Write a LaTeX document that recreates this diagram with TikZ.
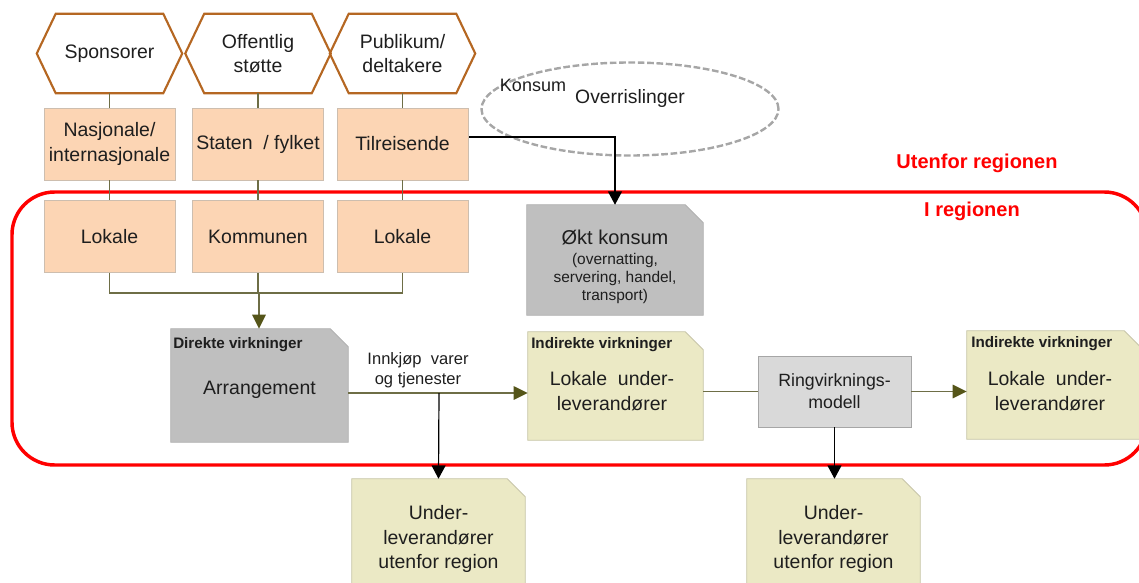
\documentclass[tikz,border=0pt]{standalone}
\usepackage{fontspec}
\setmainfont{Liberation Sans}
\usepackage{xcolor}
\usetikzlibrary{shapes.geometric}
\usetikzlibrary{arrows.meta}
\usetikzlibrary{calc}

\definecolor{hexbrown}{RGB}{181,103,34}
\definecolor{peachfill}{RGB}{252,213,180}
\definecolor{peachedge}{RGB}{205,190,175}
\definecolor{greyfill}{RGB}{191,191,191}
\definecolor{greyedge}{RGB}{178,178,178}
\definecolor{ringfill}{RGB}{217,217,217}
\definecolor{ringedge}{RGB}{166,166,166}
\definecolor{sandfill}{RGB}{235,233,197}
\definecolor{sandedge}{RGB}{200,198,170}
\definecolor{olivelink}{RGB}{110,110,70}
\definecolor{olivetip}{RGB}{85,85,25}
\definecolor{spillgrey}{RGB}{166,166,166}
\definecolor{txtgrey}{RGB}{30,30,30}

\newcommand{\mainsize}{\fontsize{14.6}{18.4}\selectfont}
\newcommand{\smallsize}{\fontsize{11.6}{13.8}\selectfont}

\begin{document}
\begin{tikzpicture}[x=0.75pt,y=0.75pt,yscale=-1,xscale=1,
	every node/.style={text=txtgrey},
	hexline/.style={draw=hexbrown, line width=1.6pt, line join=miter},
	hexnode/.style={minimum width=80.25pt, minimum height=59.25pt, inner sep=0pt, align=center, font=\mainsize},
	peach/.style={draw=peachedge, fill=peachfill, line width=0.6pt, minimum width=98.25pt, minimum height=54pt, inner sep=0pt, align=center, font=\mainsize},
	note/.style={rectangle, inner sep=0pt},
	sand note/.style={note, minimum width=131.25pt, minimum height=81pt},
	notetext/.style={font=\mainsize, align=center},
	head/.style={anchor=west, inner sep=0pt, font=\bfseries\fontsize{11.4}{13}\selectfont},
	link/.style={draw=olivelink, line width=1.2pt},
	linkarrow/.style={link, -{Triangle[width=10pt,length=10.5pt,color=olivetip]}},
	outarrow/.style={draw=black, line width=0.9pt, -{Triangle[width=10.5pt,length=10pt,color=black]}},
	region/.style={draw=red, line width=2.6pt, rounded corners=32pt},
	regionlabel/.style={text=red, font=\bfseries\fontsize{15}{18}\selectfont}]
	%set diagram size 1139 x 582
	\useasboundingbox (0,0) rectangle (1139,582);

	%Shape: Rounded Rect [id:region]
	\draw[region] (12,192) rectangle (1147,465);

	%Shape: Ellipse [id:spill]
	\node[ellipse, draw=spillgrey, line width=1.8pt, dash pattern={on 5pt off 2pt}, minimum width=222.75pt, minimum height=69.75pt] (spill) at (630,109) {};

	%Shape: Hexagons
	\node[hexnode] (spons) at (109.5,53.5) {Sponsorer};
	\node[hexnode] (offst) at (258,53.5) {Offentlig\\støtte};
	\node[hexnode] (publ) at (402.5,53.5) {Publikum/\\deltakere};
	\foreach \h in {spons,offst,publ}
		\draw[hexline] (\h.north west) -- (\h.north east) -- ([xshift=14.25pt]\h.east) -- (\h.south east) -- (\h.south west) -- ([xshift=-14.25pt]\h.west) -- cycle;

	%Shape: Rectangle
	\node[peach] (nat) at (109.5,144) {Nasjonale/\\internasjonale};
	\node[peach] (stat) at (258,144) {Staten~~/ fylket};
	\node[peach] (tilr) at (402.5,144) {Tilreisende};
	\node[peach] (lok1) at (109.5,236.5) {Lokale};
	\node[peach] (komm) at (258,236.5) {Kommunen};
	\node[peach] (lok3) at (402.5,236.5) {Lokale};

	%Shape: Notes (folded corner)
	\node[note, minimum width=132pt, minimum height=82.5pt] (okt) at (615,260) {};
	\node[note, minimum width=132.75pt, minimum height=84.75pt] (arr) at (259.5,385.5) {};
	\node[sand note] (ind1) at (615.5,386) {};
	\node[sand note] (ind2) at (1054.5,385) {};
	\node[note, minimum width=129.75pt, minimum height=90pt] (ub1) at (438.5,539) {};
	\node[note, minimum width=129.75pt, minimum height=90pt] (ub2) at (833.5,539) {};
	\foreach \n/\f/\e in {okt/greyfill/greyedge, arr/greyfill/greyedge, ind1/sandfill/sandedge, ind2/sandfill/sandedge, ub1/sandfill/sandedge, ub2/sandfill/sandedge}
		\filldraw[fill=\f, draw=\e, line width=0.6pt] (\n.north west) -- ($(\n.north east)+(-18,0)$) -- ($(\n.north east)+(0,18)$) -- (\n.south east) -- (\n.south west) -- cycle;

	%Shape: Rectangle [id:ring]
	\node[draw=ringedge, fill=ringfill, line width=0.6pt, minimum width=114.75pt, minimum height=53.25pt, inner sep=0pt, align=center, font=\fontsize{13.3}{16.5}\selectfont] (ring) at (834.5,391.5) {Ringvirknings-\\modell};

	% Text Node
	\node[align=center, font=\smallsize] (okttext) at (615,267) {{\fontsize{15}{18}\selectfont Økt konsum}\\[1pt](overnatting,\\servering, handel,\\transport)};
	\node[head] (arrhead) at (173,345) {Direkte virkninger};
	\node[head] (ind1head) at (531,345) {Indirekte virkninger};
	\node[head] (ind2head) at (971,344) {Indirekte virkninger};
	\node[notetext] (arrtext) at (259.5,390) {Arrangement};
	\node[notetext] (ind1text) at (612,391) {Lokale~~under-\\leverandører};
	\node[notetext] (ind2text) at (1050,391) {Lokale~~under-\\leverandører};
	\node[notetext] (ub1text) at (438.5,539) {Under-\\leverandører\\utenfor region};
	\node[notetext] (ub2text) at (833.5,539) {Under-\\leverandører\\utenfor region};
	\node[font=\fontsize{12.4}{15}\selectfont, align=center] (buytext) at (418,370) {Innkjøp~~varer\\og tjenester};
	\node[font=\fontsize{13.5}{16}\selectfont] (konsum) at (533,85) {Konsum};
	\node[font=\fontsize{14.5}{17}\selectfont] (spilltext) at (630,98) {Overrislinger};
	\node[regionlabel] (outside) at (977,163) {Utenfor regionen};
	\node[regionlabel] (inside) at (972,211) {I regionen};

	%Connectors
	\foreach \h/\a/\b in {spons/nat/lok1, offst/stat/komm, publ/tilr/lok3}
		\draw[link] (\h.south) -- (\a.north) (\a.south) -- (\b.north);
	\coordinate (join) at (259,293);
	\draw[link] (lok1.south) |- (join) -| (lok3.south);
	\draw[link] (komm.south) |- (join);
	\draw[linkarrow] (join) -- (join |- arr.north);

	\coordinate (tilrout) at (469,137);
	\draw[outarrow] (tilrout) -| (okt.north);

	\coordinate (buy) at (439,393);
	\draw[linkarrow] (arr.east |- buy) -- (ind1.west |- buy);
	\draw[outarrow] (buy) -- (ub1.north);
	\draw[link] (ind1.east |- ring.west) -- (ring.west);
	\draw[linkarrow] (ring.east) -- (ind2.west |- ring.east);
	\draw[outarrow] (ring.south) -- (ring.south |- ub2.north);

\end{tikzpicture}
\end{document}
